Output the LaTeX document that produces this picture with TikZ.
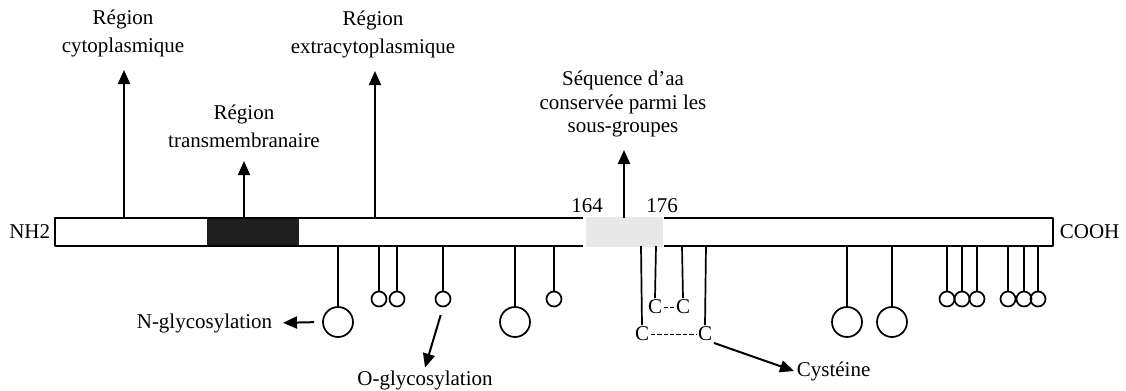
\documentclass[tikz,border=0pt]{standalone}
\usepackage{fontspec}
\setmainfont{Liberation Serif}
\usetikzlibrary{arrows.meta,positioning}

\begin{document}
\begin{tikzpicture}[x=0.5pt,y=-0.5pt,line width=0.85pt,line join=round,
  txt/.style={font=\fontsize{10.5}{14}\selectfont,align=center,inner sep=1pt},
  tip/.style={line width=1pt,-{Triangle[length=7pt,width=6pt]}},
  ring/.style={circle,draw,inner sep=0pt,minimum size=15pt},
  dot/.style={circle,draw,inner sep=0pt,minimum size=7.5pt},
  cys/.style={font=\fontsize{10.5}{12}\selectfont,inner sep=0.5pt}]
  \useasboundingbox (0,0) rectangle (1126,391);
  % chain
  \fill[gray!18] (586,217) rectangle (663,247);
  \fill[black!88] (207,218) rectangle (299,246);
  \draw (583,218) -- (55,218) -- (55,246) -- (583,246);
  \draw (664,218) -- (1053,218) -- (1053,246) -- (664,246);
  \node[txt,anchor=east] (nh) at (53,232) {NH2};
  \node[txt,anchor=west] (cooh) at (1057,232) {COOH};
  \node[txt] (p164) at (587,206) {164};
  \node[txt] (p176) at (662,206) {176};
  % regions
  \coordinate (cyt) at (124,218);
  \coordinate (tm) at (244,218);
  \coordinate (ext) at (375,218);
  \coordinate (cons) at (624,218);
  \node[txt,anchor=south] (lcyt) at (123,60) {Région\\cytoplasmique};
  \node[txt,anchor=south] (ltm) at (244,151) {Région\\transmembranaire};
  \node[txt,anchor=south] (lext) at (373,61) {Région\\extracytoplasmique};
  \node[txt,anchor=south,font=\fontsize{10.5}{11.75}\selectfont] (lcons) at (623,140)
    {Séquence d’aa\\conservée parmi les\\sous-groupes};
  \draw[tip,shorten >=5pt] (cyt) -- (lcyt.south -| cyt);
  \draw[tip,shorten >=5pt] (tm) -- (ltm.south -| tm);
  \draw[tip,shorten >=5pt] (ext) -- (lext.south -| ext);
  \draw[tip,shorten >=5pt] (cons) -- (lcons.south -| cons);
  % glycosylation sites
  \foreach \x/\n in {338/n1,515/n2,847/n3,892/n4} {
    \node[ring] (\n) at (\x,322) {};
    \draw (\x,246) -- (\n.north);
  }
  \foreach \x/\n in {379/o1,397/o2,443/o3,554/o4,947/o5,962/o6,977/o7,1008/o8,1024/o9,1038/o10} {
    \node[dot] (\n) at (\x,299) {};
    \draw (\x,246) -- (\n.north);
  }
  \node[txt,anchor=east] (nglyc) at (275,323) {N-glycosylation};
  \node[txt] (oglyc) at (425,380) {O-glycosylation};
  \draw[tip,shorten <=4pt,shorten >=4pt] (n1.west) -- (nglyc.east);
  \draw[tip,shorten <=4pt] (o3.south) -- (oglyc.north);
  % disulfide bridges
  \node[cys] (ca) at (642,334) {C};
  \node[cys] (cb) at (705,334) {C};
  \node[cys] (cc) at (655,307) {C};
  \node[cys] (cd) at (683,307) {C};
  \draw (641,246) -- (ca.north);
  \draw (706,246) -- (cb.north);
  \draw (656,246) -- (cc.north);
  \draw (682,246) -- (cd.north);
  \draw[line width=0.5pt,dash pattern=on 2.2pt off 1pt] (ca) -- (cb);
  \draw[line width=0.5pt,dash pattern=on 2.2pt off 1pt] (cc) -- (cd);
  \node[txt,anchor=west] (cyst) at (794,371) {Cystéine};
  \draw[tip] (cb.south east) -- (cyst.west);
\end{tikzpicture}
\end{document}
